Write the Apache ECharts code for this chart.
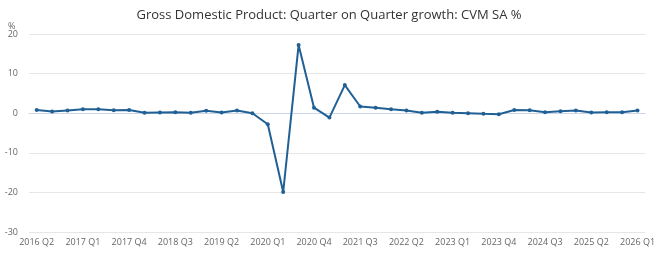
<!DOCTYPE html>
<html>
<head>
<meta charset="utf-8">
<script src="https://cdn.jsdelivr.net/npm/echarts@6/dist/echarts.min.js"></script>
<style>
  html, body { margin: 0; padding: 0; background: #fff; }
  #gdpChart { width: 658px; height: 258px; }
</style>
</head>
<body>
<div id="gdpChart"></div>
<script>
// quarters shown on the x axis
const quarters = [
  '2016 Q2', '2016 Q3', '2016 Q4',
  '2017 Q1', '2017 Q2', '2017 Q3', '2017 Q4',
  '2018 Q1', '2018 Q2', '2018 Q3', '2018 Q4',
  '2019 Q1', '2019 Q2', '2019 Q3', '2019 Q4',
  '2020 Q1', '2020 Q2', '2020 Q3', '2020 Q4',
  '2021 Q1', '2021 Q2', '2021 Q3', '2021 Q4',
  '2022 Q1', '2022 Q2', '2022 Q3', '2022 Q4',
  '2023 Q1', '2023 Q2', '2023 Q3', '2023 Q4',
  '2024 Q1', '2024 Q2', '2024 Q3', '2024 Q4',
  '2025 Q1', '2025 Q2', '2025 Q3', '2025 Q4',
  '2026 Q1'
]
// quarter on quarter growth, %
const growth = [
  0.8, 0.4, 0.7,
  1.0, 1.0, 0.75, 0.8,
  0.1, 0.2, 0.25, 0.1,
  0.6, 0.2, 0.7, 0.0,
  -2.8, -19.9, 17.2, 1.4,
  -1.1, 7.1, 1.7, 1.35,
  1.0, 0.7, 0.1, 0.35,
  0.1, 0.0, -0.15, -0.25,
  0.8, 0.75, 0.25, 0.5,
  0.7, 0.15, 0.25, 0.25,
  0.7
]
const yTicks = { min: -30, max: 20, step: 10 }

const chartTitle = 'Gross Domestic Product: Quarter on Quarter growth: CVM SA %'

const option = {
  backgroundColor: '#fff',
  animation: false,
  textStyle: { fontFamily: 'Open Sans' },
  title: [
    {
      text: chartTitle,
      left: 'center',
      top: 4,
      textStyle: { fontSize: 13, fontWeight: 'normal', color: '#333', fontFamily: 'Open Sans' }
    },
    {
      text: '%',
      left: 3,
      top: 17,
      textStyle: { fontSize: 9, fontWeight: 'normal', color: '#666', fontFamily: 'Open Sans' }
    }
  ],
  grid: {
    left: 29,
    right: 8,
    top: 34,
    bottom: 26
  },
  xAxis: {
    type: 'category',
    data: quarters,
    boundaryGap: true,
    axisLine: { lineStyle: { color: '#ccd6eb' } },
    axisTick: {
      alignWithLabel: true,
      interval: 2,
      length: 6,
      lineStyle: { color: '#ccd6eb' }
    },
    axisLabel: {
      interval: 2,
      fontSize: 9,
      color: '#666',
      margin: 6
    },
    splitLine: { show: false }
  },
  yAxis: {
    type: 'value',
    min: yTicks.min,
    max: yTicks.max,
    interval: yTicks.step,
    axisLine: { show: false },
    axisTick: { show: false },
    axisLabel: { fontSize: 9, color: '#666', margin: 11 },
    splitLine: { lineStyle: { color: '#e6e6e6' } }
  },
  series: [
    {
      name: 'Growth',
      type: 'line',
      data: growth,
      symbol: 'circle',
      symbolSize: 4,
      lineStyle: { color: '#206095', width: 2 },
      itemStyle: { color: '#206095' }
    }
  ]
}

const gdpChart = echarts.init(document.getElementById('gdpChart'))
gdpChart.setOption(option)
window.addEventListener('resize', () => gdpChart.resize())
</script>
</body>
</html>
